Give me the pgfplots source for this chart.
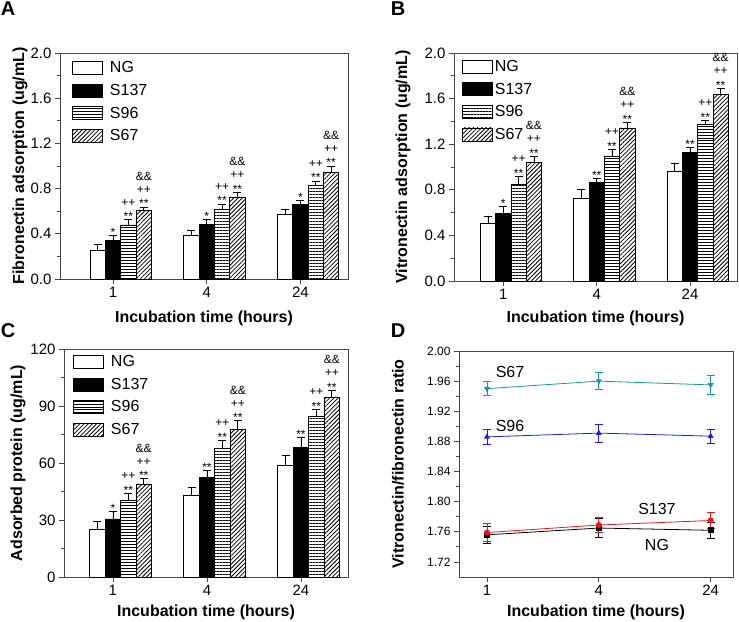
\documentclass[border=0pt]{standalone}
\usepackage{fontspec}
\setmainfont{Liberation Sans}
\usepackage{pgfplots}
\pgfplotsset{compat=1.18}
\usetikzlibrary{patterns.meta}

\newcommand{\fs}[1]{\fontsize{#1bp}{#1bp}\selectfont}
\definecolor{axgray}{RGB}{70,70,70}
\definecolor{s67teal}{RGB}{25,150,150}
\definecolor{s96blue}{RGB}{30,30,225}
\definecolor{s137red}{RGB}{230,25,25}

\pgfplotsset{
  panel/.style={
    scale only axis, anchor=south west, clip=false,
    axis line style={axgray, line width=0.9bp},
    tick style={axgray, line width=0.8bp},
    tick align=outside, major tick length=5bp, minor tick length=3bp,
    tick pos=left,
    xtick={0,1,2}, xticklabels={1,4,24}, minor y tick num=1,
    ticklabel style={font=\fs{15}},
    /pgf/number format/assume math mode=true,
    label style={font=\bfseries\fs{16}},
    xlabel={Incubation time (hours)},
  },
  bars/.style={
    legend cell align=left,
    legend style={draw=none, fill=none, inner sep=0pt, anchor=north west, font=\fs{16},
      nodes={inner sep=1bp, text height=12bp, text depth=3bp}, row sep=5.6bp,
      /tikz/every odd column/.style={column sep=#1}},
  },
  bar/.style={ybar, bar width=0.164, bar shift=0pt, draw=black, line width=0.7bp,
    error bars/y dir=plus, error bars/y explicit,
    error bars/error bar style={black, line width=0.7bp, solid},
    error bars/error mark options={black, rotate=90, mark size=4bp, line width=0.7bp},
    legend image code/.code={\draw[##1, draw=black, line width=0.7bp] (0bp,-6bp) rectangle (30bp,7bp);}},
  hlines/.style={pattern={Lines[angle=0, distance=3pt, line width=0.6pt]}},
  dlines/.style={pattern={Lines[angle=45, distance=3pt, line width=0.8pt]}},
  ann/.style 2 args={draw=none, mark=none, forget plot, nodes near coords={#1},
    every node near coord/.append style={font=\fs{12}, anchor=base, inner sep=0pt, yshift=#2}},
  lineplot/.style={line width=0.8bp, mark size=2.6bp,
    error bars/y dir=both, error bars/y explicit,
    error bars/error bar style={line width=0.8bp, solid},
    error bars/error mark options={rotate=90, mark size=4bp, line width=0.8bp}},
}

\begin{document}
\begin{tikzpicture}
\useasboundingbox (0,0) rectangle (739bp,622bp);

% ---------- A: fibronectin ----------
\begin{axis}[panel, bars=6bp, at={(60bp,343bp)}, width=288bp, height=226bp,
  xmin=-0.566, xmax=2.508, ymin=0, ymax=2.0, ytick={0,0.4,0.8,1.2,1.6,2.0},
  yticklabel style={/pgf/number format/fixed, /pgf/number format/fixed zerofill, /pgf/number format/precision=1},
  ylabel={Fibronectin adsorption (ug/mL)},
  ylabel style={at={(axis description cs:-0.139,0.5)}, anchor=center},
  xlabel style={at={(axis description cs:0.5,-0.173)}, anchor=center},
  legend style={at={(0.042,0.97)}}]
\addplot[bar, fill=white] coordinates {(-0.164,0.253) +- (0,0.056) (0.836,0.382) +- (0,0.047) (1.836,0.568) +- (0,0.044)};
\addplot[bar, fill=black] coordinates {(0,0.338) +- (0,0.050) (1,0.485) +- (0,0.039) (2,0.659) +- (0,0.035)};
\addplot[bar, fill=white, hlines] coordinates {(0.164,0.479) +- (0,0.045) (1.164,0.618) +- (0,0.047) (2.164,0.832) +- (0,0.036)};
\addplot[bar, fill=white, dlines] coordinates {(0.328,0.606) +- (0,0.032) (1.328,0.726) +- (0,0.042) (2.328,0.947) +- (0,0.053)};
\legend{NG,S137,S96,S67}
\addplot[ann={*}{-1bp}] coordinates {(0,0.388) (1,0.524) (2,0.694)};
\addplot[ann={**}{-1bp}] coordinates {(0.164,0.524) (1.164,0.665) (2.164,0.868) (0.328,0.638) (1.328,0.768) (2.328,1.0)};
\addplot[ann={++}{13.7bp}] coordinates {(0.164,0.524) (1.164,0.665) (2.164,0.868) (0.328,0.638) (1.328,0.768) (2.328,1.0)};
\addplot[ann={\&\&}{26.6bp}] coordinates {(0.328,0.638) (1.328,0.768) (2.328,1.0)};
\end{axis}

% ---------- B: vitronectin ----------
\begin{axis}[panel, bars=1bp, at={(454bp,341bp)}, width=283bp, height=228bp,
  xmin=-0.528, xmax=2.503, ymin=0, ymax=2.0, ytick={0,0.4,0.8,1.2,1.6,2.0},
  yticklabel style={/pgf/number format/fixed, /pgf/number format/fixed zerofill, /pgf/number format/precision=1},
  ylabel={Vitronectin adsorption (ug/mL)},
  ylabel style={at={(axis description cs:-0.180,0.5)}, anchor=center},
  xlabel style={at={(axis description cs:0.5,-0.162)}, anchor=center},
  legend style={at={(0.028,0.976)}}]
\addplot[bar, fill=white] coordinates {(-0.164,0.505) +- (0,0.064) (0.836,0.724) +- (0,0.079) (1.836,0.958) +- (0,0.072)};
\addplot[bar, fill=black] coordinates {(0,0.593) +- (0,0.064) (1,0.861) +- (0,0.041) (2,1.127) +- (0,0.047)};
\addplot[bar, fill=white, hlines] coordinates {(0.164,0.850) +- (0,0.070) (1.164,1.095) +- (0,0.061) (2.164,1.372) +- (0,0.035)};
\addplot[bar, fill=white, dlines] coordinates {(0.328,1.037) +- (0,0.058) (1.328,1.343) +- (0,0.047) (2.328,1.635) +- (0,0.053)};
\legend{NG,S137,S96,S67}
\addplot[ann={*}{-1bp}] coordinates {(0,0.657)};
\addplot[ann={**}{-1bp}] coordinates {(1,0.902) (2,1.174) (0.164,0.920) (1.164,1.156) (2.164,1.407) (0.328,1.095) (1.328,1.390) (2.328,1.688)};
\addplot[ann={++}{13.7bp}] coordinates {(0.164,0.920) (1.164,1.156) (2.164,1.407) (0.328,1.095) (1.328,1.390) (2.328,1.688)};
\addplot[ann={\&\&}{26.6bp}] coordinates {(0.328,1.095) (1.328,1.390) (2.328,1.688)};
\end{axis}

% ---------- C: adsorbed protein ----------
\begin{axis}[panel, bars=6bp, at={(64bp,45bp)}, width=284bp, height=228bp,
  xmin=-0.52, xmax=2.5, ymin=0, ymax=120, ytick={0,30,60,90,120},
  ylabel={Adsorbed protein (ug/mL)},
  ylabel style={at={(axis description cs:-0.162,0.5)}, anchor=center},
  xlabel style={at={(axis description cs:0.5,-0.154)}, anchor=center},
  legend style={at={(0.032,0.98)}}]
\addplot[bar, fill=white] coordinates {(-0.164,25.3) +- (0,4.0) (0.836,43.0) +- (0,4.4) (1.836,58.5) +- (0,5.6)};
\addplot[bar, fill=black] coordinates {(0,30.6) +- (0,3.8) (1,52.2) +- (0,3.8) (2,68.2) +- (0,5.2)};
\addplot[bar, fill=white, hlines] coordinates {(0.164,40.4) +- (0,3.7) (1.164,67.5) +- (0,4.4) (2.164,84.5) +- (0,3.7)};
\addplot[bar, fill=white, dlines] coordinates {(0.328,49.0) +- (0,2.7) (1.328,77.8) +- (0,4.4) (2.328,94.4) +- (0,3.8)};
\legend{NG,S137,S96,S67}
\addplot[ann={*}{-1bp}] coordinates {(0,34.4)};
\addplot[ann={**}{-1bp}] coordinates {(1,56.0) (2,73.4) (0.164,44.1) (1.164,71.9) (2.164,88.2) (0.328,51.7) (1.328,82.2) (2.328,98.2)};
\addplot[ann={++}{13.7bp}] coordinates {(0.164,44.1) (1.164,71.9) (2.164,88.2) (0.328,51.7) (1.328,82.2) (2.328,98.2)};
\addplot[ann={\&\&}{26.6bp}] coordinates {(0.328,51.7) (1.328,82.2) (2.328,98.2)};
\end{axis}

% ---------- D: ratio ----------
\begin{axis}[panel, at={(459bp,45bp)}, width=274bp, height=226bp,
  xmin=-0.25, xmax=2.2, ymin=1.70, ymax=2.00,
  ytick={1.72,1.76,1.80,1.84,1.88,1.92,1.96,2.00},
  yticklabel style={font=\fs{12}, /pgf/number format/fixed, /pgf/number format/fixed zerofill, /pgf/number format/precision=2},
  ylabel={Vitronectin/fibronectin ratio},
  ylabel style={at={(axis description cs:-0.223,0.5)}, anchor=center},
  xlabel style={at={(axis description cs:0.5,-0.155)}, anchor=center}]
\addplot[lineplot, s67teal, mark=triangle*, mark options={rotate=180}] coordinates {(0,1.950) +- (0,0.009) (1,1.960) +- (0,0.011) (2,1.955) +- (0,0.012)};
\addplot[lineplot, s96blue, mark=triangle*] coordinates {(0,1.886) +- (0,0.010) (1,1.891) +- (0,0.012) (2,1.887) +- (0,0.009)};
\addplot[lineplot, black, mark=square*] coordinates {(0,1.756) +- (0,0.011) (1,1.765) +- (0,0.013) (2,1.762) +- (0,0.011)};
\addplot[lineplot, s137red, mark=*] coordinates {(0,1.759) +- (0,0.012) (1,1.769) +- (0,0.010) (2,1.775) +- (0,0.011)};
\node[font=\fs{16}] at (axis cs:0.206,1.972) {S67};
\node[font=\fs{16}] at (axis cs:0.206,1.900) {S96};
\node[font=\fs{16}] at (axis cs:1.52,1.790) {S137};
\node[font=\fs{16}] at (axis cs:1.52,1.742) {NG};
\end{axis}

% panel letters
\node[font=\bfseries\fs{20}] at (8bp,613bp) {A};
\node[font=\bfseries\fs{20}] at (398bp,613bp) {B};
\node[font=\bfseries\fs{20}] at (8bp,291bp) {C};
\node[font=\bfseries\fs{20}] at (398bp,291bp) {D};
\end{tikzpicture}
\end{document}
